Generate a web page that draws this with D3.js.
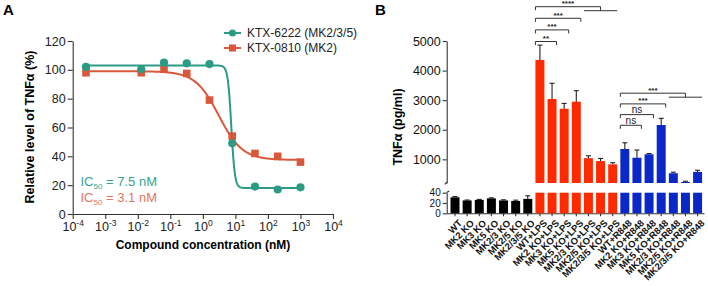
<!DOCTYPE html>
<html><head><meta charset="utf-8">
<script src="https://cdn.jsdelivr.net/npm/d3@7"></script>
<style>body{margin:0;background:#fff} svg{display:block} text{font-family:"Liberation Sans",Arial,sans-serif}</style>
</head><body><svg id="c" width="708" height="286"></svg>
<script>
// ---------- Panel A data ----------
const doses = [0.000256, 0.0128, 0.064, 0.32, 1.6, 8, 40, 200, 1000];
const ktx6222 = [102, 100.5, 105, 104.5, 104, 49, 19, 17, 18.5];
const ktx0810 = [98, 98, 100.5, 97.5, 79, 54, 42, 40, 36];
const seriesNames = ["KTX-6222 (MK2/3/5)", "KTX-0810 (MK2)"];
const ic50Labels = [" = 7.5 nM", " = 3.1 nM"];
// four-parameter logistic fit parameters
const fitTop = [103, 99];
const fitBottom = [18, 37.5];
const fitIC50 = [7.5, 3.1];
const fitHill = [8, 1.2];
const xTickExpA = [-4, -3, -2, -1, 0, 1, 2, 3, 4];
const yTicksA = [0, 20, 40, 60, 80, 100, 120];

// ---------- Panel B data ----------
const categories = ["WT","MK2 KO","MK3 KO","MK5 KO","MK2/3 KO","MK2/5 KO","MK2/3/5 KO",
  "WT+LPS","MK2 KO+LPS","MK3 KO+LPS","MK5 KO+LPS","MK2/3 KO+LPS","MK2/5 KO+LPS","MK2/3/5 KO+LPS",
  "WT+R848","MK2 KO+R848","MK3 KO+R848","MK5 KO+R848","MK2/3 KO+R848","MK2/5 KO+R848","MK2/3/5 KO+R848"];
const groups = ["ctrl","ctrl","ctrl","ctrl","ctrl","ctrl","ctrl",
  "LPS","LPS","LPS","LPS","LPS","LPS","LPS",
  "R848","R848","R848","R848","R848","R848","R848"];
const tnfMean = [31, 25, 26, 29, 25, 24, 28,
  4360, 3040, 2710, 2950, 1040, 940, 830,
  1350, 1055, 1170, 2160, 530, 235, 575];
const tnfErr = [1.5, 0.8, 1, 1, 1.2, 1.5, 6,
  500, 530, 180, 370, 80, 90, 55,
  210, 260, 25, 225, 35, 25, 55];
const upperTicks = [1000, 2000, 3000, 4000, 5000];
const lowerTicks = [0, 20, 40];
const lpsComparisons = [["WT+LPS", ["MK2 KO+LPS"], "**"], ["WT+LPS", ["MK3 KO+LPS"], "***"],
  ["WT+LPS", ["MK5 KO+LPS"], "***"], ["WT+LPS", ["MK2/3 KO+LPS","MK2/5 KO+LPS","MK2/3/5 KO+LPS"], "****"]];
const r848Comparisons = [["WT+R848", ["MK2 KO+R848"], "ns"], ["WT+R848", ["MK3 KO+R848"], "ns"],
  ["WT+R848", ["MK5 KO+R848"], "***"], ["WT+R848", ["MK2/3 KO+R848","MK2/5 KO+R848","MK2/3/5 KO+R848"], "***"]];

const svg = d3.select("#c");
const teal = "#2b9b86", orange = "#d9583b";
const axisCol = "#333";

// ---------------- Panel A ----------------
svg.append("text").attr("x", 3).attr("y", 15).attr("font-size", 15).attr("font-weight", "bold").text("A");
const xA = d3.scaleLog().domain([1e-4, 1e4]).range([72.7, 333]);
const yA = d3.scaleLinear().domain([0, 120]).range([214, 41]);

const gxA = svg.append("g").attr("transform", "translate(0,214)")
  .call(d3.axisBottom(xA).tickValues(xTickExpA.map(e => Math.pow(10, e))).tickFormat("").tickSize(5).tickSizeOuter(0));
gxA.selectAll(".tick").each(function(d, i) {
  const t = d3.select(this).append("text").attr("fill", "#222").attr("y", 17).attr("text-anchor", "middle").attr("font-size", 12.5);
  t.append("tspan").text("10");
  t.append("tspan").attr("dy", -5).attr("font-size", 8.5).text(xTickExpA[i]);
});
const gyA = svg.append("g").attr("transform", "translate(72.7,0)")
  .call(d3.axisLeft(yA).tickValues(yTicksA).tickSize(5).tickPadding(2).tickSizeOuter(0));
gyA.selectAll("text").attr("font-size", 12.5).attr("fill", "#222");
[gxA, gyA].forEach(g => { g.selectAll("path,line").attr("stroke", axisCol).attr("stroke-width", 1.1); g.attr("font-family", null); });

svg.append("text").attr("x", 203).attr("y", 249).attr("text-anchor", "middle").attr("font-size", 12).attr("font-weight", "bold").text("Compound concentration (nM)");
svg.append("text").attr("transform", "translate(34,127) rotate(-90)").attr("text-anchor", "middle").attr("font-size", 12.5).attr("font-weight", "bold").text("Relative level of TNFα (%)");

// fitted curves
const colorsA = [teal, orange];
const seriesA = [ktx6222, ktx0810];
const logStart = Math.log10(doses[0]), logEnd = Math.log10(doses[doses.length - 1]);
seriesA.forEach((s, k) => {
  const xs = d3.range(logStart, logEnd + 0.001, 0.01).map(l => Math.pow(10, l));
  const fit = x => fitBottom[k] + (fitTop[k] - fitBottom[k]) / (1 + Math.pow(x / fitIC50[k], fitHill[k]));
  svg.append("path").datum(xs).attr("fill", "none").attr("stroke", colorsA[k]).attr("stroke-width", 2)
    .attr("d", d3.line().x(d => xA(d)).y(d => yA(fit(d))));
});
// points
svg.append("g").selectAll("rect").data(ktx0810).join("rect")
  .attr("x", (d, i) => xA(doses[i]) - 3.8).attr("y", d => yA(d) - 3.8).attr("width", 7.6).attr("height", 7.6).attr("fill", orange);
svg.append("g").selectAll("circle").data(ktx6222).join("circle")
  .attr("cx", (d, i) => xA(doses[i])).attr("cy", d => yA(d)).attr("r", 4.1).attr("fill", teal);

// legend
seriesNames.forEach((n, k) => {
  const y = 33 + k * 15;
  svg.append("line").attr("x1", 224).attr("x2", 241).attr("y1", y).attr("y2", y).attr("stroke", colorsA[k]).attr("stroke-width", 2);
  if (k === 0) svg.append("circle").attr("cx", 232.5).attr("cy", y).attr("r", 3.6).attr("fill", teal);
  else svg.append("rect").attr("x", 229).attr("y", y - 3.5).attr("width", 7).attr("height", 7).attr("fill", orange);
  svg.append("text").attr("x", 247).attr("y", y).attr("dy", "0.36em").attr("font-size", 12).attr("fill", "#222").text(n);
});
// IC50 annotations
const icCols = ["#34a58d", "#e3785f"];
ic50Labels.forEach((lab, k) => {
  const t = svg.append("text").attr("x", 80.5).attr("y", 185.5 + k * 16).attr("font-size", 13).attr("fill", icCols[k]);
  t.append("tspan").text("IC");
  t.append("tspan").attr("dy", 3).attr("font-size", 8).text("50");
  t.append("tspan").attr("dy", -3).text(lab);
});

// ---------------- Panel B ----------------
svg.append("text").attr("x", 375).attr("y", 15).attr("font-size", 15).attr("font-weight", "bold").text("B");
const axX = 446.7;
const xB = d3.scaleBand().domain(categories).range([448.1, 704.5]).paddingInner(0.26).paddingOuter(0.2);
const upMin = 200;
const yUp = d3.scaleLinear().domain([upMin, 5000]).range([183, 41]);
const yLo = d3.scaleLinear().domain([0, 40]).range([213.3, 192.7]);
const barCol = { ctrl: "#000000", LPS: "#ff2a00", R848: "#0a28c8" };

const gU = svg.append("g").attr("transform", `translate(${axX},0)`)
  .call(d3.axisLeft(yUp).tickValues(upperTicks).tickFormat(d3.format("d")).tickSize(4).tickPadding(2).tickSizeOuter(0));
const gL = svg.append("g").attr("transform", `translate(${axX},0)`)
  .call(d3.axisLeft(yLo).tickValues(lowerTicks).tickFormat(d3.format("d")).tickSize(4).tickPadding(2).tickSizeOuter(0));
[gU, gL].forEach(g => { g.selectAll("path,line").attr("stroke", axisCol).attr("stroke-width", 1.1); g.selectAll("text").attr("font-size", 12.5).attr("fill", "#111"); g.attr("font-family", null); });
gL.selectAll("text").attr("font-size", 10);
// break marks
svg.append("path").attr("d", `M${axX},182 q-0.5,1.5 -2,2.2`).attr("fill", "none").attr("stroke", axisCol).attr("stroke-width", 1.1);
svg.append("path").attr("d", `M${axX},192.7 q1,-1.2 2.5,-1.6`).attr("fill", "none").attr("stroke", axisCol).attr("stroke-width", 1.1);

const gxB = svg.append("g").attr("transform", "translate(0,213.3)")
  .call(d3.axisBottom(xB).tickSize(3).tickSizeOuter(0).tickFormat(""));
gxB.select(".domain").attr("d", `M${axX},0.5H704.5`);
gxB.selectAll("path,line").attr("stroke", axisCol).attr("stroke-width", 1.1);
categories.forEach(c => {
  const cx = xB(c) + xB.bandwidth() / 2;
  svg.append("text").attr("transform", `translate(${cx + 3},219) rotate(-45)`).attr("text-anchor", "end")
    .attr("dy", "0.7em").attr("font-size", 9.5).attr("font-weight", "bold").attr("fill", "#111").text(c);
});
svg.append("text").attr("transform", "translate(402,127) rotate(-90)").attr("text-anchor", "middle").attr("font-size", 12.5).attr("font-weight", "bold").text("TNFα (pg/ml)");

// bars
const bw = xB.bandwidth();
categories.forEach((c, i) => {
  const v = tnfMean[i], e = tnfErr[i], x = xB(c), col = barCol[groups[i]];
  svg.append("rect").attr("x", x).attr("width", bw).attr("y", yLo(Math.min(v, 40))).attr("height", yLo(0) - yLo(Math.min(v, 40))).attr("fill", col);
  if (v > upMin) svg.append("rect").attr("x", x).attr("width", bw).attr("y", yUp(v)).attr("height", yUp(upMin) - yUp(v)).attr("fill", col);
  const ys = v > upMin ? yUp : yLo;
  const cx = x + bw / 2;
  svg.append("line").attr("x1", cx).attr("x2", cx).attr("y1", ys(v)).attr("y2", ys(v + e)).attr("stroke", "#222").attr("stroke-width", 1.1);
  svg.append("line").attr("x1", cx - 2.5).attr("x2", cx + 2.5).attr("y1", ys(v + e)).attr("y2", ys(v + e)).attr("stroke", "#222").attr("stroke-width", 1.1);
});

// significance brackets
function brackets(list, baseY, step) {
  list.forEach((b, lvl) => {
    const y = baseY - lvl * step;
    const x1 = xB(b[0]);
    let x2;
    const g = svg.append("g").attr("stroke", "#333").attr("stroke-width", 1).attr("fill", "none");
    if (b[1].length === 1) {
      x2 = xB(b[1][0]) + bw;
      g.append("path").attr("d", `M${x1},${y + 3.5}V${y}H${x2}V${y + 3.5}`);
    } else {
      const mid = b[1][Math.floor(b[1].length / 2)];
      x2 = xB(mid) + bw / 2;
      const sx1 = xB(b[1][0]), sx2 = xB(b[1][b[1].length - 1]) + bw;
      g.append("path").attr("d", `M${x1},${y + 3.5}V${y}H${x2}V${y + 4}`);
      g.append("path").attr("d", `M${sx1},${y + 4}H${sx2}`);
    }
    const isNs = b[2] === "ns";
    svg.append("text").attr("x", (x1 + x2) / 2).attr("y", y - (isNs ? 1.2 : 0.5)).attr("text-anchor", "middle")
      .attr("font-size", isNs ? 10 : 8).attr("font-weight", isNs ? "normal" : "bold").attr("fill", "#222").text(b[2]);
  });
}
brackets(lpsComparisons, 41.5, 11.6);
brackets(r848Comparisons, 125.3, 10.7);
</script></body></html>
